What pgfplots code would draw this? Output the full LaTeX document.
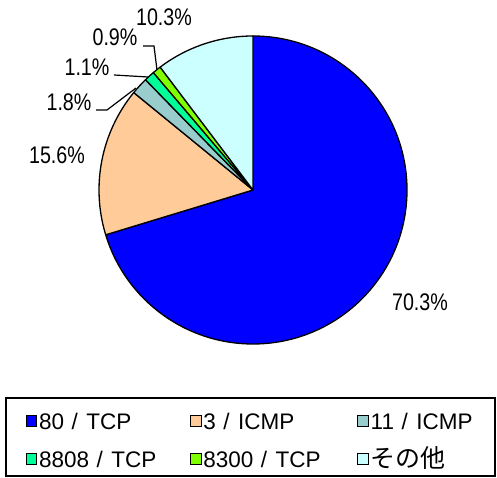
\documentclass[border=0pt]{standalone}
\usepackage{fontspec}
\setmainfont{Liberation Sans}
\newfontfamily\jp{Noto Sans CJK JP}
\newfontfamily\lblfont{Liberation Sans}[FakeStretch=0.82]
\usepackage{pgfplots}
\pgfplotsset{compat=1.18}

% shares (percent)
\def\vA{70.3}% 80/TCP
\def\vB{15.6}% 3/ICMP
\def\vC{1.8}%  11/ICMP
\def\vD{1.1}%  8808/TCP
\def\vE{0.9}%  8300/TCP
\def\vF{10.3}% others
\pgfmathsetmacro\aA{90}
\pgfmathsetmacro\aB{\aA-3.6*\vA}
\pgfmathsetmacro\aC{\aB-3.6*\vB}
\pgfmathsetmacro\aD{\aC-3.6*\vC}
\pgfmathsetmacro\aE{\aD-3.6*\vD}
\pgfmathsetmacro\aF{\aE-3.6*\vE}
\pgfmathsetmacro\aG{\aF-3.6*\vF}

\definecolor{cA}{HTML}{0000FF}
\definecolor{cB}{HTML}{FFCC99}
\definecolor{cC}{HTML}{99CCCC}
\definecolor{cD}{HTML}{00FF99}
\definecolor{cE}{HTML}{80FF00}
\definecolor{cF}{HTML}{CCFFFF}

\newcommand\slice[3]{\filldraw[fill=#1,draw=black,line width=1.3pt,line join=round]
  (axis cs:253,288) -- ++(#2:154pt) arc[start angle=#2,end angle=#3,radius=154pt] -- cycle;}
\newcommand\lbl{\lblfont\fontsize{24}{28}\selectfont}
\newcommand\wsl{\kern7.5pt/\kern8.5pt}
\newcommand\legimg[1]{\addlegendimage{legend image code/.code={\draw[fill=#1,draw=black,line width=0.8pt] (0pt,3pt) rectangle (10.5pt,13.5pt);}}}

\begin{document}
\begin{tikzpicture}
\begin{axis}[
  x=1pt, y=1pt,
  xmin=0, xmax=497, ymin=0, ymax=478,
  hide axis, clip=false,
  legend columns=3,
  legend style={at={(axis cs:25.6,68)}, anchor=north west, draw=none, fill=none,
    inner sep=0pt, column sep=0pt, row sep=12pt,
    cells={anchor=base west},
    nodes={inner sep=2pt, text height=17pt, text depth=5pt},
    font=\fontsize{22.5}{26}\selectfont},
]
\path (axis cs:0,0) rectangle (axis cs:497,478);
\slice{cA}{\aA}{\aB}
\slice{cB}{\aB}{\aC}
\slice{cC}{\aC}{\aD}
\slice{cD}{\aD}{\aE}
\slice{cE}{\aE}{\aF}
\slice{cF}{\aF}{\aG}

\node[font=\lbl, inner sep=0pt] at (axis cs:420,176) {70.3\%};
\node[font=\lbl, inner sep=0pt] at (axis cs:57,323) {15.6\%};
\node[font=\lbl, inner sep=0pt] at (axis cs:69,376) {1.8\%};
\node[font=\lbl, inner sep=0pt] at (axis cs:87,411) {1.1\%};
\node[font=\lbl, inner sep=0pt] at (axis cs:115,441) {0.9\%};
\node[font=\lbl, inner sep=0pt] at (axis cs:164,461) {10.3\%};

\draw[line width=1.2pt] (axis cs:96,368) -- (axis cs:107,368) -- (axis cs:136,390);
\draw[line width=1.2pt] (axis cs:114,403) -- (axis cs:148,401);
\draw[line width=1.2pt] (axis cs:143,432) -- (axis cs:154,432) -- (axis cs:157,408);

\draw[line width=1.3pt] (axis cs:6,2) rectangle (axis cs:495,80);

\legimg{cA}\addlegendentry{\makebox[149pt][l]{80\wsl TCP}}
\legimg{cB}\addlegendentry{\makebox[152pt][l]{3\wsl ICMP}}
\legimg{cC}\addlegendentry{\makebox[120pt][l]{11\wsl ICMP}}
\legimg{cD}\addlegendentry{8808\wsl TCP}
\legimg{cE}\addlegendentry{8300\wsl TCP}
\legimg{cF}\addlegendentry{{\jp\fontsize{25}{28}\selectfont その他}}
\end{axis}
\end{tikzpicture}
\end{document}
